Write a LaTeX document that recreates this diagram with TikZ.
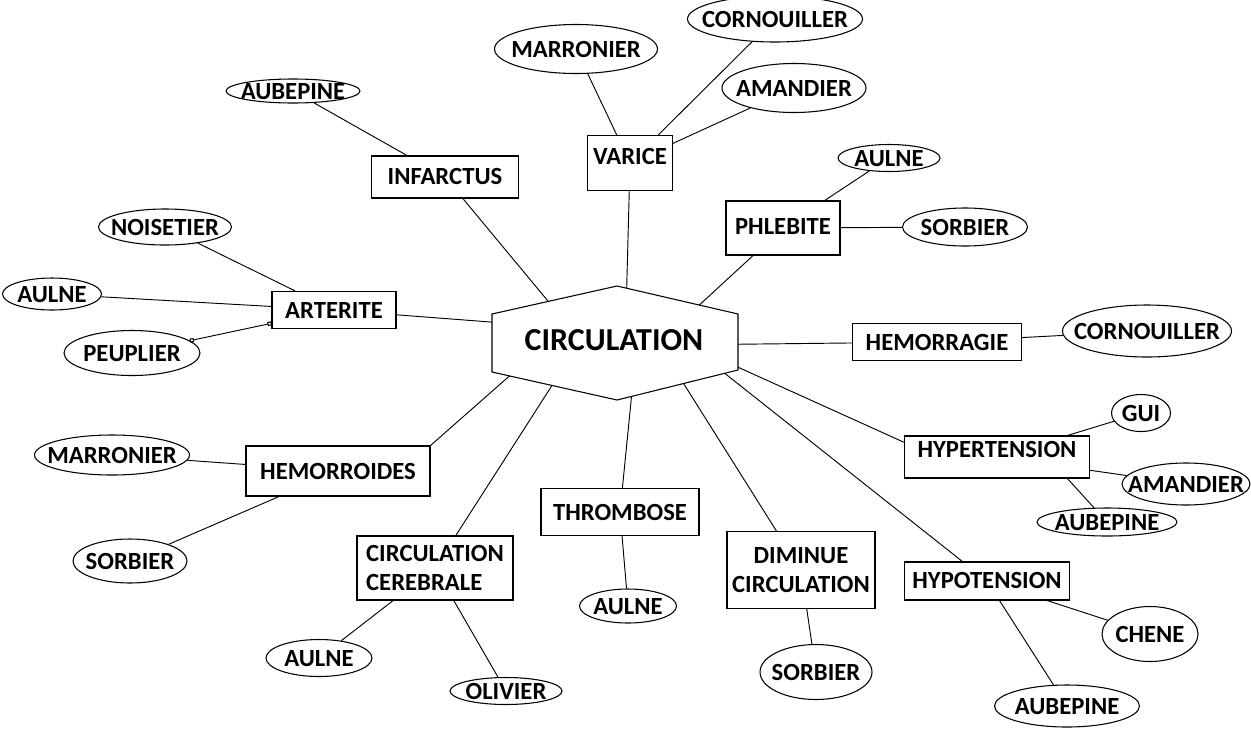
\documentclass[tikz,border=0pt]{standalone}
\usepackage{fontspec}
\setmainfont{Carlito}
\usetikzlibrary{arrows.meta, shapes.geometric, calc}

\begin{document}
\begin{tikzpicture}[x=0.75pt,y=-0.75pt,font=\bfseries\fontsize{18.5}{22}\selectfont,line width=0.7pt]

\useasboundingbox (0,0) rectangle (1251,729);

% Hexagon
\coordinate (HW) at (492,314);
\coordinate (HT) at (617,286);
\coordinate (HE) at (738,314);
\coordinate (HSE) at (738,370);
\coordinate (HB) at (617,400);
\coordinate (HSW) at (492,372);
\draw[line width=0.8pt] (HW) -- (HT) -- (HE) -- (HSE) -- (HB) -- (HSW) -- cycle;
\node[font=\bfseries\fontsize{24}{28}\selectfont] (C) at (614,340) {CIRCULATION};

% Boxes
\foreach \n/\x/\y/\w/\h/\u/\t in {INF/445/177/147/42/1/INFARCTUS, VAR/630/163/85/55/7/VARICE,
    ART/334/310/124/37/0/ARTERITE, PHL/783/228/114/54/2/PHLEBITE, HEM/937/342/169/37/0/HEMORRAGIE,
    HYT/997/457/185/42/8/HYPERTENSION, HYP/987/581/165/38/1/HYPOTENSION,
    THR/620/512/158/47/0/THROMBOSE, HMR/338/471/184/50/0/HEMORROIDES} {
    \node[draw, line width=0.8pt, minimum width=\w*0.75pt, minimum height=\h*0.75pt,
        text height=12pt, text depth=\u*1.5pt] (\n) at (\x,\y) {\t};
}
\node[draw, line width=0.8pt, minimum width=148*0.75pt, minimum height=77*0.75pt, align=center]
    (DIM) at (801,570) {DIMINUE\\CIRCULATION};
\node[draw, line width=0.8pt, minimum width=156*0.75pt, minimum height=64*0.75pt, align=left]
    (CCE) at (435,568) {CIRCULATION\\CEREBRALE};

% Trees
\foreach \n/\x/\y/\w/\h/\t in {aub1/293/91/134/24/AUBEPINE, mar1/576/49/163/49/MARRONIER,
    cor1/775/19/175/46/CORNOUILLER, ama1/794/88/144/49/AMANDIER, aul1/889/158/102/27/AULNE,
    sor1/965/227/125/38/SORBIER, cor2/1147/331/169/52/CORNOUILLER, gui/1141/413/59/37/GUI,
    ama2/1186/484/128/42/AMANDIER, aub2/1107/522/140/28/AUBEPINE, che/1150/634/96/55/CHENE,
    aub3/1067/706/145/42/AUBEPINE, sor2/816/672/112/55/SORBIER, aul2/628/606/97/34/AULNE,
    oli/506/691/112/27/OLIVIER, aul3/319/658/106/37/AULNE, sor3/130/561/114/44/SORBIER,
    mar2/112/455/155/40/MARRONIER, peu/132/353/136/45/PEUPLIER, aul4/52/294/99/32/AULNE,
    noi/165/227/133/36/NOISETIER} {
    \node[ellipse, draw, line width=0.8pt, inner sep=0pt, minimum width=\w*0.75pt,
        minimum height=\h*0.75pt, text height=12pt, text depth=0pt] (\n) at (\x,\y) {\makebox[0pt]{\t}};
}

% Connections: centre -> boxes
\draw ($(HW)!0.45!(HT)$) -- (INF);
\draw ($(HT)!0.08!(HE)$) -- (VAR);
\draw ($(HT)!0.68!(HE)$) -- (PHL);
\draw ($(HE)!0.54!(HSE)$) -- (HEM);
\draw ($(HE)!0.95!(HSE)$) -- (HYT.171);
\draw ($(HSE)!0.11!(HB)$) -- (HYP);
\draw ($(HSE)!0.45!(HB)$) -- (DIM);
\draw ($(HSE)!0.88!(HB)$) -- (THR);
\draw ($(HB)!0.52!(HSW)$) -- (CCE);
\draw ($(HB)!0.86!(HSW)$) -- (HMR.north east);
\draw ($(HW)!0.14!(HSW)$) -- (ART);

% Connections: boxes -> trees
\foreach \a/\b in {INF/aub1, VAR/mar1, VAR/cor1, VAR/ama1, PHL/aul1, PHL/sor1, HEM/cor2,
    HYT/gui, HYT/ama2, HYP/che, HYP/aub3, DIM/sor2, THR/aul2, CCE/aul3, CCE/oli,
    HMR/mar2, HMR/sor3, ART/noi, ART/aul4} {
    \draw (\a) -- (\b);
}
\draw (HYT.-17) -- (aub2);
\draw[{Square[open,length=3pt,width=3pt]}-{Square[open,length=3pt,width=3pt]}] (peu) -- (ART);

\end{tikzpicture}
\end{document}
